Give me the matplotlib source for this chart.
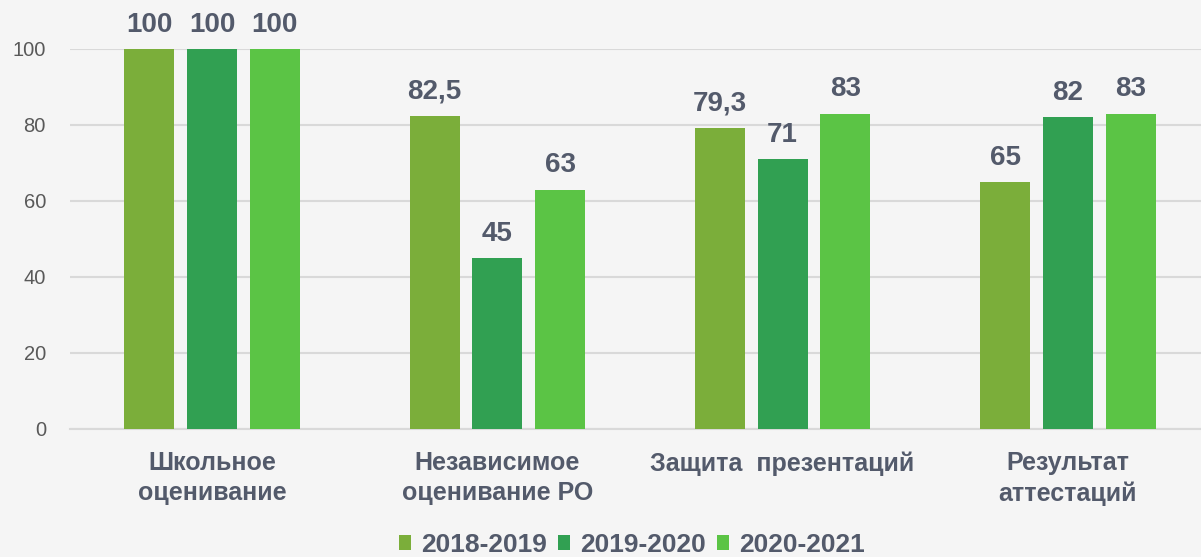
import matplotlib
matplotlib.use("Agg")
import matplotlib.pyplot as plt
import numpy as np

# данные
categories = ["Школьное\nоценивание", "Независимое\nоценивание РО", "Защита  презентаций", "Результат\nаттестаций"]
years = ["2018-2019", "2019-2020", "2020-2021"]
values_2018 = [100, 82.5, 79.3, 65]
values_2019 = [100, 45, 71, 82]
values_2020 = [100, 63, 83, 83]
y_ticks = [0, 20, 40, 60, 80, 100]

colors = ["#7BAE3A", "#31A052", "#5BC445"]
text_color = "#535A6B"
bg = "#F5F5F5"

plt.rcParams["font.family"] = ["Liberation Sans", "DejaVu Sans"]

fig = plt.figure(figsize=(12.01, 5.57), dpi=100, facecolor=bg)
ax = fig.add_axes([69.5 / 1201, 128 / 557, 1141 / 1201, 380 / 557])
ax.set_facecolor(bg)

x = np.arange(len(categories))
step = 0.22
width = 0.175
series = [values_2018, values_2019, values_2020]
bars = []
for i, (vals, col, lab) in enumerate(zip(series, colors, years)):
    b = ax.bar(x + (i - 1) * step, vals, width, color=col, label=lab, zorder=3)
    bars.append(b)
    for xi, v in zip(x + (i - 1) * step, vals):
        txt = f"{v:g}".replace(".", ",")
        ax.annotate(txt, (xi, v), xytext=(0, 12.5), textcoords="offset points",
                    ha="center", va="baseline", fontsize=20, fontweight="bold",
                    color=text_color, annotation_clip=False)

ax.set_xlim(-0.5, 3.5)
ax.set_ylim(0, 100)
ax.set_yticks(y_ticks)
ax.set_yticklabels([str(t) for t in y_ticks], fontsize=14.5, color="#595959")
ax.set_xticks(x)
ax.set_xticklabels(categories, fontsize=18, fontweight="bold", color=text_color, linespacing=1.3)
ax.tick_params(axis="both", length=0)
ax.tick_params(axis="y", pad=17)
ax.tick_params(axis="x", pad=16)
ax.grid(axis="y", color="#D9D9D9", linewidth=1.5, zorder=0)
for s in ["top", "right", "left"]:
    ax.spines[s].set_visible(False)
ax.spines["bottom"].set_color("#D9D9D9")
ax.spines["bottom"].set_linewidth(1.5)

fig.legend(handles=bars, labels=years, loc="center", bbox_to_anchor=(632 / 1201, 12 / 557),
           ncol=3, frameon=False, handlelength=0.45, handleheight=0.5,
           handletextpad=0.4, columnspacing=0.4, borderaxespad=0,
           prop={"size": 19, "weight": "bold"}, labelcolor=text_color)

fig.savefig("out.png", dpi=100, facecolor=bg)
